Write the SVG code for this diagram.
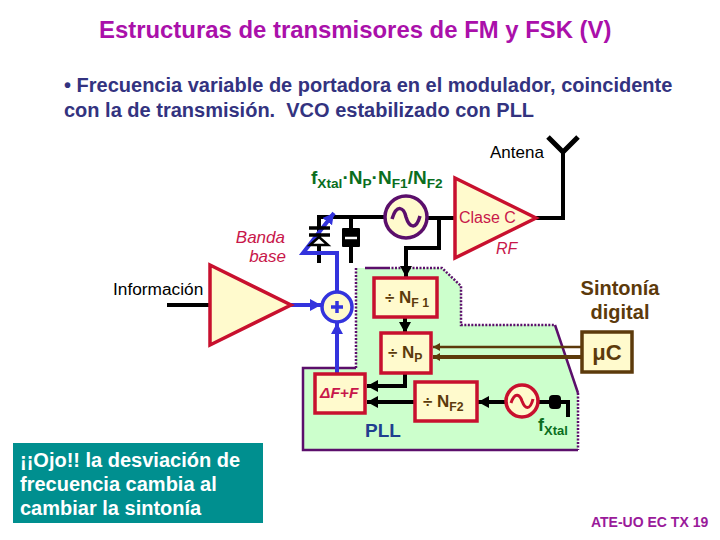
<svg xmlns="http://www.w3.org/2000/svg" width="720" height="540" viewBox="0 0 720 540">
<style>
text{font-family:"Liberation Sans",Arial,sans-serif;white-space:pre}
.b{font-weight:bold}
.blk{fill:#FFFACD;stroke:#C8102E;stroke-width:3.5}
.w{fill:none;stroke:#000;stroke-width:4}
.bl{fill:none;stroke:#3333DD;stroke-width:4}
.br{fill:none;stroke:#5C3A0B}
.lab{font-weight:bold;font-size:20px;fill:#5C3A0B}
.sub{font-size:.72em}
.grn{fill:#0A6E1E;font-weight:bold}
.cr{fill:#C8174A}
</style>
<defs>
<marker id="ak" markerUnits="userSpaceOnUse" markerWidth="14" markerHeight="14" refX="11" refY="6" orient="auto"><path d="M0 0L11 6L0 12Z" fill="#000"/></marker>
<marker id="ab" markerUnits="userSpaceOnUse" markerWidth="14" markerHeight="14" refX="11" refY="6" orient="auto"><path d="M0 0L11 6L0 12Z" fill="#3333DD"/></marker>
<marker id="abr" markerUnits="userSpaceOnUse" markerWidth="10" markerHeight="10" refX="7" refY="4" orient="auto"><path d="M0 0L7 4L0 8Z" fill="#5C3A0B"/></marker>
</defs>
<rect width="720" height="540" fill="#fff"/>
<text x="99" y="38" class="b" font-size="23.9" fill="#AA10AA">Estructuras de transmisores de FM y FSK (V)</text>
<text class="b" font-size="20" fill="#333380"><tspan x="64" y="92">• Frecuencia variable de portadora en el modulador, coincidente</tspan><tspan x="64" y="117">con la de transmisión.  VCO estabilizado con PLL</tspan></text>
<g id="pll-zone">
<path d="M356 268H442L461 286V325H555L578 393V450H303V368H356Z" fill="#CCFFCC"/>
<path d="M388 268H442L461 286V325H555M578 393V450M356 368V268" fill="none" stroke="#5B0F6B" stroke-width="2.5" stroke-dasharray="2 1.5"/>
<path d="M365 268H388M555 325L578 393M578 450H303V368H356" fill="none" stroke="#5B0F6B" stroke-width="2.5"/>
</g>
<g id="connectors">
<path class="w" d="M167 305H210"/>
<path class="w" d="M319 263V217H385"/>
<path class="w" d="M351 217V263"/>
<path class="w" d="M427 218H455"/>
<path class="w" stroke-width="5" d="M536 218H563V152"/>
<path class="w" stroke-width="5" d="M439 218V248H406V277" marker-end="url(#ak)"/>
<path class="w" d="M405 317V333" marker-end="url(#ak)"/>
<path class="w" d="M405 373V386H367" marker-end="url(#ak)"/>
<path class="w" d="M415 402H367" marker-end="url(#ak)"/>
<path class="w" d="M506 402H478" marker-end="url(#ak)"/>
<path class="w" d="M538 402H568V417"/>
<path class="bl" d="M291 305H321" marker-end="url(#ab)"/>
<path class="bl" d="M337 374V323" marker-end="url(#ab)"/>
<path class="bl" d="M337 292V253H303L334 213" marker-end="url(#ab)"/>
<path class="br" stroke-width="2.5" d="M582 347H433" marker-end="url(#abr)"/>
<path class="br" stroke-width="4" d="M582 357H433" marker-end="url(#abr)"/>
</g>
<g id="antenna"><path d="M548 137L563 152L578 137" fill="none" stroke="#000" stroke-width="5"/><text x="490" y="158" font-size="17">Antena</text></g>
<text id="f-label" x="311" y="184" class="grn" font-size="19">f<tspan class="sub" dy="4">Xtal</tspan><tspan dy="-4">·N</tspan><tspan class="sub" dy="4">P</tspan><tspan dy="-4">·N</tspan><tspan class="sub" dy="4">F1</tspan><tspan dy="-4">/N</tspan><tspan class="sub" dy="4">F2</tspan></text>
<g id="varactor">
<path d="M309 228H330M309 235H330" stroke="#000" stroke-width="3.5"/>
<path d="M319 237L310 245H328Z" fill="#fff" stroke="#000" stroke-width="2.5"/>
</g>
<g id="capacitor"><rect x="342" y="228" width="18" height="19" rx="1" fill="#000"/><path d="M345 238H357" stroke="#fff" stroke-width="2.5"/></g>
<g id="vco"><circle cx="406" cy="217" r="21" fill="#FFFACD" stroke="#5B0F6B" stroke-width="3.5"/><path d="M392 219C397 203 404 208 406 217C409 227 416 231 420 216" fill="none" stroke="#5B0F6B" stroke-width="3.5"/></g>
<g id="class-c"><path class="blk" d="M455 178L536 218L455 258Z"/><text x="459" y="223" font-size="16" class="cr">Clase C</text><text x="496" y="254" font-size="16" font-style="italic" class="cr">RF</text></g>
<text id="banda" font-size="17" font-style="italic" class="cr" text-anchor="end"><tspan x="285" y="243">Banda</tspan><tspan x="286" y="262">base</tspan></text>
<g id="amp"><path class="blk" d="M210 265L291 305L210 345Z"/><text x="113" y="295" font-size="17.3">Información</text></g>
<g id="sum"><circle cx="337" cy="307" r="15" fill="#FFFACD" stroke="#3333DD" stroke-width="3.5"/><path d="M331 307H343M337 301V313" stroke="#3333DD" stroke-width="3.5"/></g>
<g id="nf1"><rect class="blk" x="374" y="278" width="63" height="39"/><text x="385" y="303" class="lab" font-size="17" style="font-size:17px">÷ N<tspan class="sub" dy="4">F 1</tspan></text></g>
<g id="np"><rect class="blk" x="381" y="333" width="50" height="40"/><text x="388" y="358" class="lab" style="font-size:17px">÷ N<tspan class="sub" dy="4">P</tspan></text></g>
<g id="df"><rect class="blk" x="315" y="374" width="50" height="39"/><text x="320" y="398" font-size="15.5" font-weight="bold" font-style="italic" class="cr">ΔF+F</text></g>
<g id="nf2"><rect class="blk" x="415" y="382" width="62" height="39"/><text x="423" y="407" class="lab" style="font-size:17px">÷ N<tspan class="sub" dy="4">F2</tspan></text></g>
<g id="ref"><circle cx="522" cy="401" r="16" fill="#FFFACD" stroke="#C8102E" stroke-width="3.5"/><path d="M511 403C515 391 520 395 522 401C525 409 530 411 533 399" fill="none" stroke="#C8102E" stroke-width="3"/></g>
<g id="xtal"><rect x="549" y="395" width="12" height="14" rx="4" fill="#000"/><text x="538" y="431" class="grn" font-size="18">f<tspan class="sub" dy="4">Xtal</tspan></text></g>
<text x="365" y="437" class="b" font-size="19" fill="#1F3F8F">PLL</text>
<g id="uc"><rect x="582" y="332" width="50" height="40" fill="#FFFACD" stroke="#5C3A0B" stroke-width="3.5"/><text x="607" y="360" text-anchor="middle" class="lab" style="font-size:22px">μC</text></g>
<text class="lab" text-anchor="middle"><tspan x="620" y="295">Sintonía</tspan><tspan x="620" y="319">digital</tspan></text>
<g id="note"><rect x="13" y="443" width="250" height="80" fill="#008F8F"/><text class="b" font-size="20" fill="#fff"><tspan x="20" y="467">¡¡Ojo!! la desviación de</tspan><tspan x="20" y="491">frecuencia cambia al</tspan><tspan x="20" y="515">cambiar la sintonía</tspan></text></g>
<text x="591" y="527" class="b" font-size="14" fill="#9A1A9A">ATE-UO EC TX 19</text>
</svg>
